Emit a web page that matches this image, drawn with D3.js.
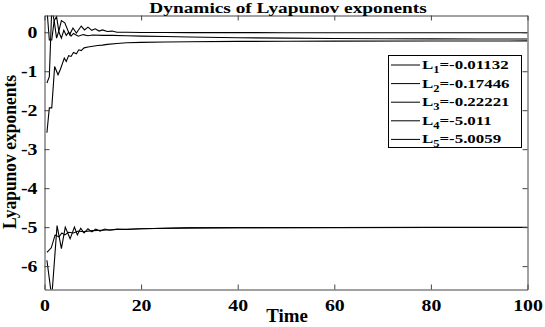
<!DOCTYPE html>
<html><head><meta charset="utf-8">
<script src="https://cdn.jsdelivr.net/npm/d3@7"></script>
<style>body{margin:0;background:#fff}</style>
</head><body>
<script>
const xTicks = [0, 20, 40, 60, 80, 100];
const yTicks = [0, -1, -2, -3, -4, -5, -6];
const legendNames = ["1", "2", "3", "4", "5"];
const legendValues = ["-0.01132", "-0.17446", "-0.22221", "-5.011", "-5.0059"];

const t1 = [0.5, 1, 1.5, 2, 2.5, 3, 3.5, 4.2, 5.2, 5.9, 6.6, 7.6, 8.3, 9, 9.8, 10.5, 11.3, 12, 13, 14, 15, 17, 20, 25, 30, 40, 50, 60, 70, 80, 90, 100];
const v1 = [-1.3, -1.14, 0.6, 0.3, -0.15, 0.05, 0.3, 0.24, -0.06, 0.11, -0.02, 0.16, 0.06, 0.13, 0.05, 0.09, 0.03, 0.06, 0.02, 0.03, 0.0, 0.0, -0.005, -0.008, -0.009, -0.01, -0.011, -0.011, -0.011, -0.011, -0.011, -0.0113];

const t2 = [0.5, 1, 1.5, 2, 2.5, 3, 3.5, 4, 4.5, 5, 5.5, 6, 7, 8, 9, 10, 12, 14, 17, 20, 25, 30, 40, 50, 60, 70, 80, 90, 100];
const v2 = [0.6, -0.2, -0.2, 0.3, 0.4, 0.0, -0.15, 0.05, -0.08, 0.0, -0.1, -0.03, -0.1, -0.06, -0.09, -0.07, -0.08, -0.08, -0.09, -0.1, -0.11, -0.12, -0.14, -0.15, -0.16, -0.165, -0.17, -0.172, -0.174];

const t3 = [0.5, 1, 1.5, 2.1, 2.8, 3.3, 4.1, 4.5, 5, 5.5, 6, 6.6, 7.1, 7.6, 8.2, 9, 10, 11, 12, 13, 15, 17, 20, 25, 30, 40, 50, 60, 80, 100];
const v3 = [-2.58, -1.94, -1.94, -0.88, -1.09, -0.95, -0.66, -0.75, -0.6, -0.62, -0.52, -0.55, -0.45, -0.47, -0.4, -0.38, -0.36, -0.34, -0.33, -0.31, -0.29, -0.27, -0.26, -0.25, -0.245, -0.235, -0.23, -0.228, -0.225, -0.222];

const t4 = [0.5, 1.5, 2.6, 3.5, 4.3, 5.3, 6.2, 6.8, 7.5, 8.2, 9, 9.8, 10.6, 11.5, 12.5, 13.5, 15, 17, 20, 25, 30, 40, 60, 80, 100];
const v4 = [-5.85, -6.8, -4.96, -5.55, -5.0, -5.3, -5.0, -5.2, -5.03, -5.15, -5.04, -5.12, -5.05, -5.1, -5.05, -5.08, -5.05, -5.06, -5.04, -5.03, -5.02, -5.015, -5.012, -5.011, -5.011];

const t5 = [0.5, 1.4, 2.2, 3, 3.6, 4.2, 5, 6, 7, 8, 10, 12, 15, 20, 30, 40, 60, 80, 100];
const v5 = [-5.65, -5.53, -5.2, -5.25, -5.15, -5.2, -5.13, -5.15, -5.1, -5.12, -5.09, -5.08, -5.06, -5.04, -5.02, -5.012, -5.008, -5.006, -5.0059];

const series = [[t1, v1], [t2, v2], [t3, v3], [t4, v4], [t5, v5]];

const W = 545, H = 327;
const m = {l: 44.5, r: 17.5, t: 15.5, b: 37.5};
const svg = d3.select("body").append("svg").attr("width", W).attr("height", H);
const x = d3.scaleLinear().domain([0, 100]).range([m.l, W - m.r]);
const y = d3.scaleLinear().domain([-6.6, 0.43]).range([H - m.b, m.t]);
const font = "'Liberation Serif', 'Times New Roman', serif";
const SX = 1.2;

svg.append("clipPath").attr("id", "clip").append("rect")
  .attr("x", m.l).attr("y", m.t).attr("width", W - m.r - m.l).attr("height", H - m.b - m.t);

const line = d3.line().x(d => x(d[0])).y(d => y(d[1]));
const g = svg.append("g").attr("clip-path", "url(#clip)");
series.forEach(([ts, vs]) => {
  g.append("path").datum(ts.map((t, i) => [t, vs[i]]))
    .attr("d", line).attr("fill", "none").attr("stroke", "#000").attr("stroke-width", 1.1);
});

const axColor = "#444";
const styleAxis = (s) => {
  s.selectAll(".domain").attr("stroke", axColor);
  s.selectAll("line").attr("stroke", axColor);
  s.selectAll("text").attr("font-family", font).attr("font-weight", "bold").attr("font-size", 16.5).attr("fill", "#000")
    .each(function() {
      const t = d3.select(this);
      const x0 = +t.attr("x") || 0;
      t.attr("x", x0 / SX).attr("transform", `scale(${SX},1)`);
    });
};
svg.append("g").attr("transform", `translate(0,${H - m.b})`)
  .call(d3.axisBottom(x).tickValues(xTicks).tickSizeInner(-5).tickSizeOuter(0).tickPadding(10))
  .call(styleAxis);
svg.append("g").attr("transform", `translate(0,${m.t})`)
  .call(d3.axisTop(x).tickValues(xTicks).tickSizeInner(-5).tickSizeOuter(0).tickFormat(""))
  .call(styleAxis);
svg.append("g").attr("transform", `translate(${m.l},0)`)
  .call(d3.axisLeft(y).tickValues(yTicks).tickSizeInner(-5).tickSizeOuter(0).tickPadding(7).tickFormat(d => d === 0 ? "0" : "-" + Math.abs(d)))
  .call(styleAxis);
svg.append("g").attr("transform", `translate(${W - m.r},0)`)
  .call(d3.axisRight(y).tickValues(yTicks).tickSizeInner(-5).tickSizeOuter(0).tickFormat(""))
  .call(styleAxis);

svg.append("text").attr("transform", "translate(288,13) scale(1.38,1)").attr("text-anchor", "middle")
  .attr("font-family", font).attr("font-weight", "bold").attr("font-size", 14).text("Dynamics of Lyapunov exponents");
svg.append("text").attr("transform", "translate(287,322) scale(1.05,1)").attr("text-anchor", "middle")
  .attr("font-family", font).attr("font-weight", "bold").attr("font-size", 18).text("Time");
svg.append("text").attr("transform", "translate(15.5,152) scale(1.05,1) rotate(-90)").attr("text-anchor", "middle")
  .attr("font-family", font).attr("font-weight", "bold").attr("font-size", 17.5).text("Lyapunov exponents");

// legend
const lg = svg.append("g");
lg.append("rect").attr("x", 388.5).attr("y", 55.5).attr("width", 133).attr("height", 92)
  .attr("fill", "#fff").attr("stroke", "#000").attr("stroke-width", 1);
legendNames.forEach((n, i) => {
  const yy = 65 + i * 18.6;
  lg.append("line").attr("x1", 391).attr("x2", 420).attr("y1", yy).attr("y2", yy).attr("stroke", "#000");
  const tx = lg.append("text").attr("transform", `translate(422,${yy + 4}) scale(1.25,1)`)
    .attr("font-family", font).attr("font-weight", "bold").attr("font-size", 13.5);
  tx.append("tspan").text("L");
  tx.append("tspan").attr("font-size", 10).attr("dy", 4).text(n);
  tx.append("tspan").attr("dy", -4).text("=" + legendValues[i]);
});
</script>
</body></html>
